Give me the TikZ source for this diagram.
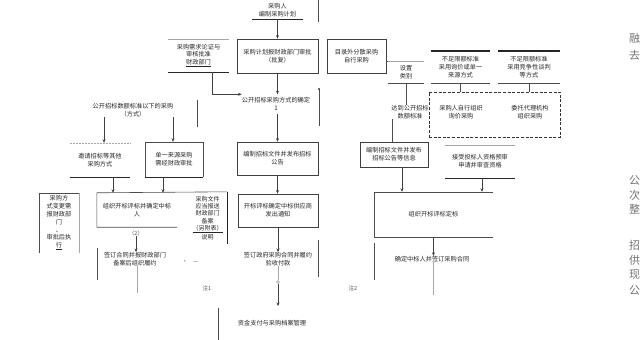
\documentclass[tikz,border=0pt]{standalone}
\usepackage{fontspec}
\newfontfamily\cjk{Noto Sans CJK SC}
\usetikzlibrary{arrows.meta}
\begin{document}
\begin{tikzpicture}[x=1pt,y=-1pt,
  txt/.style={font=\cjk\fontsize{6.2}{7.8}\selectfont, text=black!85, align=center, inner sep=0pt},
  small/.style={font=\cjk\fontsize{5.5}{6.5}\selectfont, text=black!70, inner sep=0pt},
  boxed/.style={txt, draw=black!75, line width=0.8pt},
  ln/.style={line width=0.6pt, draw=black!70},
  faint/.style={line width=0.5pt, draw=black!35},
  tk/.style={line width=1.4pt, draw=black!85},
  arr/.style={-{Stealth[length=3.5pt,width=3pt]}, line width=0.6pt, draw=black!75},
  page/.style={font=\cjk\fontsize{11}{11}\selectfont, text=black!55, anchor=west, inner sep=0pt}]
\useasboundingbox (0,0) rectangle (641,340);

% ---- top ----
\node[txt, minimum width=51pt, minimum height=18pt] (T) at (277.5,10) {采购人\\编制采购计划};
\draw[tk] (T.south west) -- (T.south east);
\coordinate (v0a) at (318,0); \coordinate (v0b) at (318,22);
\draw[ln] (v0a) -- (v0b);

% ---- row 2 ----
\node[txt, minimum width=61pt, minimum height=33pt] (A) at (198.5,55.5) {采购需求论证与\\审核批准\\\underline{财政部门}};
\draw[faint] (A.north west) -- (A.north east);
\draw[tk] (A.south west) -- (A.south east);
\node[boxed, minimum width=81pt, minimum height=34pt] (B) at (277.5,56) {采购计划报财政部门审批\\（批复）};
\node[boxed, minimum width=59pt, minimum height=34pt] (C) at (356.5,56) {目录外分散采购\\自行采购};
\draw[arr] (T.south) -- (B.north);

\node[txt, minimum width=36pt, minimum height=22pt] (D) at (406,72) {设置\\类别};
\draw[faint] (D.north west) -- (D.north east);
\draw[ln] (D.south west) -- (D.south east);
\draw[ln] (C.east |- D.north) -- (D.north west);

\node[txt, minimum width=59pt, minimum height=32pt] (E) at (460.5,67) {不足限额标准\\采用询价或单一\\来源方式};
\draw[tk] (E.north west) -- (E.north east);
\draw[ln] (E.south west) -- (E.south east);
\node[txt, minimum width=62pt, minimum height=32pt] (F) at (529,67) {不足限额标准\\采用竞争性谈判\\等方式};
\draw[tk] (F.north west) -- (F.north east);
\draw[ln] (F.south west) -- (F.south east);

\node[draw=black!80, dash pattern=on 3pt off 1.6pt, line width=0.9pt, minimum width=131pt, minimum height=45pt, inner sep=0pt] (DB) at (494.5,114.5) {};
\node[txt] (DB1) at (461,112) {采购人自行组织\\询价采购};
\node[txt] (DB2) at (530,112) {委托代理机构\\组织采购};
\draw[ln] (E.south) -- (E.south |- DB.north);
\draw[ln] (F.south) -- (F.south |- DB.north);

\node[txt] (X) at (410,112) {达到公开招标\\数额标准};
\draw[ln] (D.south) -- (D.south |- X.north);

% ---- right column ----
\node[boxed, minimum width=68pt, minimum height=25pt] (L) at (394,154.5) {编制招标文件并发布\\招标公告等信息};
\draw[ln] ([xshift=-2pt]L.north |- X.south) -- ([xshift=-2pt]L.north);
\node[txt, minimum width=70pt, minimum height=33pt] (M) at (480,161.5) {接受投标人资格预审\\申请并审查资格};
\draw[faint] (M.north west) -- (M.north east);
\draw[tk] (M.south west) -- (M.south east);
\node[txt, minimum width=119pt, minimum height=45pt] (N) at (433.5,214.5) {组织开标评标定标};
\draw[ln] (N.north east) -- (N.north west) -- (N.south west) -- (N.south east);
\draw[arr] ([xshift=8pt]L.south) -- ([xshift=8pt]L.south |- N.north);
\draw[arr] ([xshift=2pt]M.south) -- ([xshift=2pt]M.south |- N.north);
\node[txt] (O) at (432,259) {确定中标人并签订采购合同};
\draw[arr] (N.south) -- (N.south |- O.north);
\coordinate (o1) at (374,243); \coordinate (o2) at (374,280);
\draw[ln] (o1) -- (o2);
\coordinate (o3) at (433,295);
\draw[faint] (O.south -| o3) -- (o3);
\coordinate (r1) at (318,240); \coordinate (r2) at (318,277);
\draw[ln] (r1) -- (r2);

% ---- middle column ----
\node[txt, inner ysep=3pt] (G) at (276,104) {公开招标采购方式的确定\\1};
\draw[arr] (B.south) -- (B.south |- G.north);
\draw[arr] ([xshift=13.5pt]A.south) |- (G.north west);
\coordinate (g1) at (319,89); \coordinate (g2) at (319,126);
\draw[ln] (g1) -- (g2);
\fill[black!75] (g1) circle (1.1pt);
\node[boxed, minimum width=81pt, minimum height=33pt] (K) at (277.5,158.5) {编制招标文件并发布招标\\公告};
\draw[arr] (K.north |- G.south) -- (K.north);
\node[boxed, minimum width=80pt, minimum height=33pt] (P) at (278,210.5) {开标评标确定中标供应商\\发出通知};
\draw[arr] (K.south) -- (K.south |- P.north);
\node[txt] (Q) at (278,259) {签订政府采购合同并履约\\验收付款};
\draw[arr] (P.south) -- (P.south |- Q.north);
\node[draw=black!40, circle, inner sep=0pt, minimum size=3pt] (circ) at (278,282) {};
\draw[faint] (Q.south) -- (circ);
\coordinate (rtop) at (278,306);
\draw[arr] (circ) -- (rtop);
\node[txt] (R) at (272,323) {资金支付与采购档案管理};
\coordinate (q1) at (218,308); \coordinate (q2) at (218,340);
\draw[ln] (q1) -- (q2);
\node[small] (n1) at (207,288) {注1};
\node[small] (n2) at (353,288) {注2};

% ---- left column ----
\node[txt] (H) at (133,110) {公开招标数额标准以下的采购\\（方式）};
\coordinate (h1) at (197,100); \coordinate (h2) at (197,127);
\draw[ln] (h1) -- (h2);
\node[txt, minimum width=60pt, minimum height=34pt] (I) at (100,160) {邀请招标等其他\\采购方式};
\draw[faint, densely dotted] (I.north west) -- (I.north east);
\draw[tk] (I.south west) -- (I.south east);
\node[txt, minimum width=58pt, minimum height=35pt] (J) at (174,159.5) {单一来源采购\\需经财政审批};
\draw[ln] (J.south west) -- (J.north west) -- (J.north east) -- (J.south east);
\draw[tk] (J.south west) -- (J.south east);
\draw[arr] ([xshift=4pt]I.north |- H.south) -- ([xshift=4pt]I.north);
\draw[arr] ([xshift=-1pt]J.north |- H.south) -- ([xshift=-1pt]J.north);

\node[txt, minimum width=80pt, minimum height=34pt] (U) at (137,210) {组织开标评标并确定中标\\人};
\node[txt, font=\cjk\fontsize{6}{7.3}\selectfont, minimum width=39pt, minimum height=52pt] (V) at (207.5,218) {采购文件\\应当报送\\财政部门\\备案\\\underline{（另附表）}\\说明};
\draw[ln] (U.south east) -- (U.south west) -- (U.north west) -- (V.north east);
\draw[tk] (V.north east) -- (V.south east);
\draw[arr] ([xshift=13pt]I.south) -- ([xshift=13pt]I.south |- U.north);
\draw[arr] ([xshift=-11pt]J.south) -- ([xshift=-11pt]J.south |- U.north);

\node[txt, minimum width=40pt, minimum height=60pt] (S) at (59,223) {采购方\\式变更需\\报财政部\\门\\、\\审批后执\\\underline{行}};
\draw[ln] (S.south west) -- (S.north west) -- (S.north east);
\draw[faint] (S.north east) -- (S.south east);

\node[small] (UL) at (136,233) {（2）};
\node[txt] (W) at (135,259) {签订合同并报财政部门\\备案后组织履约};
\draw[arr] (UL.south) -- (UL.south |- W.north);
\coordinate (w1) at (97,248); \coordinate (w2) at (97,280);
\draw[ln] (w1) -- (w2);
\node[small] (dd) at (190,262) {•\quad —};
\coordinate (w3) at (137,293);
\draw[faint] (W.south -| w3) -- (w3);

% ---- neighbouring page text ----
\node[page] (p1) at (629,38) {融};
\node[page] (p2) at (629,55) {去};
\node[page] (p3) at (629,180) {公};
\node[page] (p4) at (629,195) {次};
\node[page] (p5) at (629,209) {整};
\node[page] (p6) at (629,245) {招};
\node[page] (p7) at (629,260) {供};
\node[page] (p8) at (629,275) {现};
\node[page] (p9) at (629,290) {公};
\end{tikzpicture}
\end{document}
